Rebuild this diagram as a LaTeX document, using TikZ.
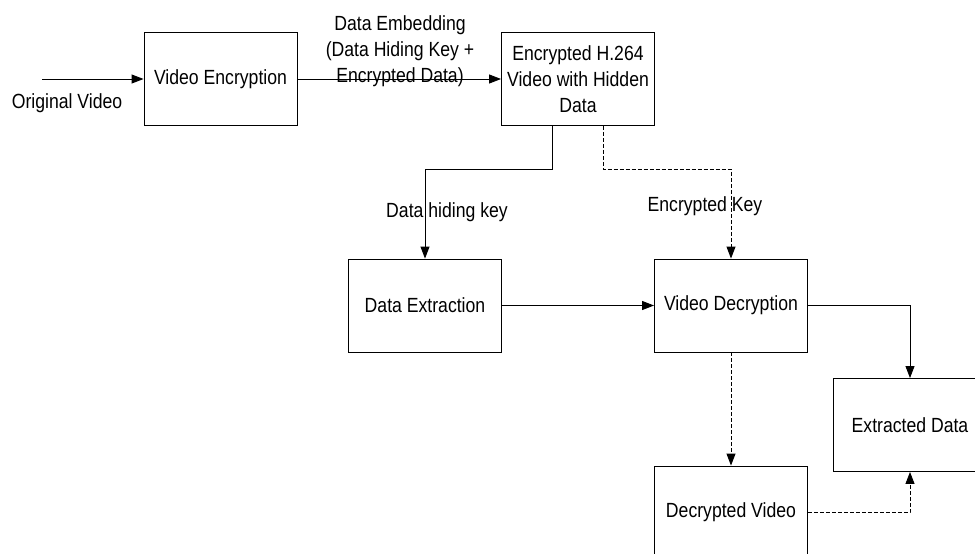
\documentclass[tikz,border=0pt]{standalone}
\usepackage{fontspec}
\setmainfont{Liberation Sans}[FakeStretch=0.86]
\usetikzlibrary{arrows.meta}
\begin{document}
\begin{tikzpicture}[x=1pt,y=-1pt,
  font=\fontsize{20.5}{26}\selectfont,
  box/.style={draw, line width=0.9pt, minimum width=153pt, minimum height=93pt, inner sep=0pt, align=center},
  arr/.style={line width=0.9pt, -{Triangle[length=12pt,width=9pt]}},
  dsh/.style={dash pattern=on 4pt off 2pt},
  lbl/.style={inner sep=0pt, align=center}]
\clip (0,0) rectangle (975,554);
\node[box] (ve) at (220.5,79) {Video Encryption};
\node[box] (enc) at (578,79) {Encrypted H.264\\Video with Hidden\\Data};
\node[box] (de) at (425,305.5) {Data Extraction};
\node[box] (vd) at (731,305.5) {Video Decryption};
\node[box] (ed) at (910,425) {Extracted Data};
\node[box] (dv) at (731,512.5) {Decrypted Video};
\coordinate (src) at (42,79);
\node[lbl] (ov) at (67,103) {Original Video};
\node[lbl] (emb) at (400,51) {Data Embedding\\(Data Hiding Key +\\Encrypted Data)};
\node[lbl] (dhk) at (447,212) {Data hiding key};
\node[lbl] (ek) at (705,206) {Encrypted Key};
\draw[arr] (src) -- (ve);
\draw[arr] (ve) -- (enc);
\draw[arr] ([xshift=-26pt]enc.south) -- ++(0,43.5) -| (de.north);
\draw[arr,dsh] ([xshift=25pt]enc.south) -- ++(0,43.5) -| (vd.north);
\draw[arr] (de) -- (vd);
\draw[arr] (vd.east) -| (ed.north);
\draw[arr,dsh] (vd) -- (dv);
\draw[arr,dsh] (dv.east) -| (ed.south);
\end{tikzpicture}
\end{document}
